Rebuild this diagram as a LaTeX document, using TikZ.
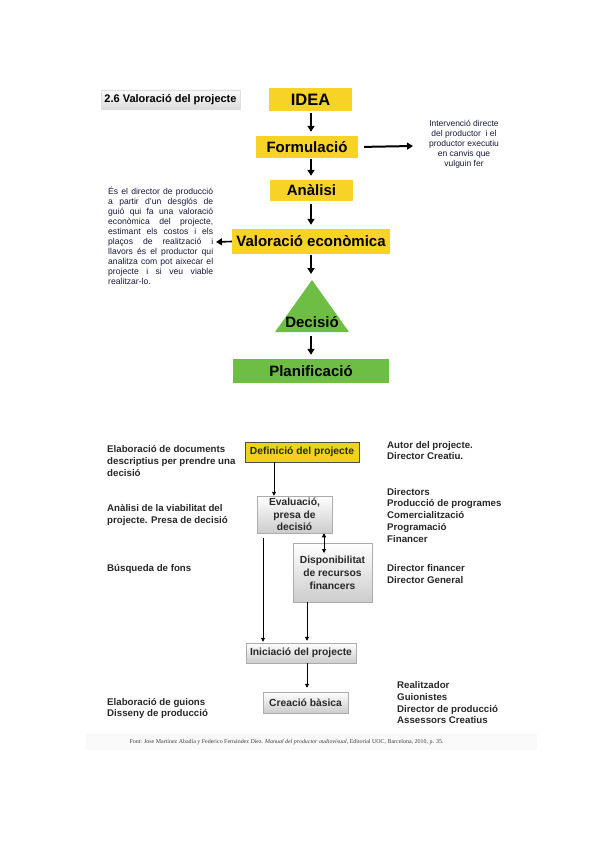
\documentclass[tikz,border=0pt]{standalone}
\usepackage{fontspec}
\setmainfont{Liberation Sans}
\newfontfamily\serifft{Liberation Serif}
\usetikzlibrary{arrows.meta,shadows}
\definecolor{ylw}{RGB}{247,211,40}
\definecolor{dylw}{RGB}{240,210,30}
\definecolor{grn}{RGB}{110,190,70}
\definecolor{navy}{RGB}{25,25,60}
\definecolor{txtg}{RGB}{40,40,40}
\tikzset{
  ybox/.style={fill=ylw, inner sep=0pt, text=black, font=\bfseries\fontsize{15}{18}\selectfont},
  gbox/.style={fill=grn, inner sep=0pt, text=black, font=\bfseries\fontsize{15}{18}\selectfont},
  titlebox/.style={top color=gray!4, bottom color=gray!28, draw=gray!25, inner sep=0pt,
    minimum width=139pt, minimum height=19pt, font=\bfseries\fontsize{11}{13}\selectfont},
  bigarr/.style={line width=1.6pt, -{Triangle[length=6pt,width=7pt]}},
  smarr/.style={line width=0.8pt, -{Triangle[length=4pt,width=4pt]}},
  lbox/.style={top color=white, bottom color=gray!40, draw=gray!65, line width=0.5pt,
    inner sep=0pt, align=center, text=txtg, font=\bfseries\fontsize{10.3}{12.3}\selectfont,
    drop shadow={opacity=0.25, shadow xshift=1pt, shadow yshift=-1pt}},
  defbox/.style={fill=dylw, draw=black!70, line width=0.5pt, inner sep=0pt, text=txtg,
    font=\bfseries\fontsize{10.3}{12.3}\selectfont,
    drop shadow={opacity=0.25, shadow xshift=1pt, shadow yshift=-1pt}},
  side/.style={anchor=base west, inner sep=0pt, align=left, text=txtg,
    font=\bfseries\fontsize{9.7}{11.8}\selectfont},
}
\begin{document}
\begin{tikzpicture}[x=1pt,y=-1pt]
\useasboundingbox (0,0) rectangle (599,848);
\fill[white] (0,0) rectangle (599,848);

% ---------- upper diagram ----------
\node[titlebox] (title) at (170.5,99.5) {2.6 Valoració del projecte};
\node[ybox, minimum width=83pt, minimum height=23pt, font=\bfseries\fontsize{16.5}{18}\selectfont] (idea) at (310.5,99.5) {IDEA};
\node[ybox, minimum width=102pt, minimum height=22pt] (form) at (307,147) {Formulació};
\node[ybox, minimum width=83pt, minimum height=21pt] (anal) at (311.5,190.5) {Anàlisi};
\node[ybox, minimum width=158pt, minimum height=25pt] (val) at (311,241.5) {Valoració econòmica};
\fill[grn] (312,280) -- (349,332) -- (275,332) -- cycle;
\coordinate (tritop) at (312,280);
\coordinate (tribot) at (312,332);
\node[inner sep=0pt, font=\bfseries\fontsize{15}{18}\selectfont] (dec) at (312,322) {Decisió};
\node[gbox, minimum width=156pt, minimum height=24pt] (plan) at (311,371) {Planificació};

% anchor base = baseline of the last line
\node[anchor=base, inner sep=0pt, align=center, text=navy, font=\fontsize{8.5}{9.8}\selectfont] (interv) at (464,166.2)
  {Intervenció directe\\del productor \ i el\\productor executiu\\en canvis que\\vulguin fer};

\node[anchor=north west, inner sep=0pt, text width=105pt, align=justify, text=navy,
  font=\fontsize{8.6}{10}\selectfont] (desc) at (108,187)
  {\hyphenpenalty=10000\relax\noindent És el director de producció\linebreak a partir d'un desglós de\linebreak guió qui fa una valoració\linebreak econòmica del projecte,\linebreak estimant els costos i els\linebreak plaços de realització i\linebreak llavors és el productor qui\linebreak analitza com pot aixecar el\linebreak projecte i si veu viable\linebreak realitzar-lo.\par};

\coordinate (ax) at (311,0);
\coordinate (rtip) at (413,146);
\coordinate (ltip) at (216,242);
\draw[bigarr, shorten <=2pt, shorten >=4pt] (idea.south -| ax) -- (form.north -| ax);
\draw[bigarr, shorten <=1pt, shorten >=4pt] (form.south -| ax) -- (anal.north -| ax);
\draw[bigarr, shorten <=3pt, shorten >=4pt] (anal.south -| ax) -- (val.north -| ax);
\draw[bigarr, shorten <=1pt, shorten >=6pt] (val.south -| ax) -- (tritop -| ax);
\draw[bigarr, shorten <=4pt, shorten >=4pt] (tribot -| ax) -- (plan.north -| ax);
\draw[bigarr, line width=2pt, shorten <=6pt] (form.east) -- (rtip);
\draw[bigarr] (val.west) -- (ltip);

% ---------- lower diagram ----------
\node[defbox, minimum width=114pt, minimum height=20pt] (def) at (302,452) {Definició del projecte};
\node[lbox, minimum width=75pt, minimum height=37pt] (eval) at (294.5,514.5) {Evaluació,\\presa de\\decisió};
\node[lbox, minimum width=79pt, minimum height=59pt, font=\bfseries\fontsize{10.3}{13}\selectfont] (disp) at (332.5,572.5) {Disponibilitat\\de recursos\\financers};
\node[lbox, minimum width=110pt, minimum height=20pt] (ini) at (301,653) {Iniciació del projecte};
\node[lbox, minimum width=85pt, minimum height=21pt] (cre) at (305.5,702.5) {Creació bàsica};

\coordinate (x1) at (274,0);
\coordinate (x2) at (263,0);
\coordinate (x3) at (324,0);
\coordinate (x4) at (307,0);
\coordinate (dtip) at (324,553);
\draw[smarr] (def.south -| x1) -- (eval.north -| x1);
\draw[smarr, shorten <=5pt, shorten >=1pt] (eval.south -| x2) -- (ini.north -| x2);
\draw[smarr, {Triangle[length=4pt,width=4pt]}-{Triangle[length=4pt,width=4pt]}] (eval.south -| x3) -- (dtip);
\draw[smarr, shorten >=2pt] (disp.south -| x4) -- (ini.north -| x4);
\draw[smarr, shorten >=4pt] (ini.south -| x4) -- (cre.north -| x4);

% side texts: anchor at the baseline of the last line
\node[side] (l1) at (107,476.1) {Elaboració de documents\\descriptius per prendre una\\decisió};
\node[side] (l2) at (107,523.3) {Anàlisi de la viabilitat del\\projecte. Presa de decisió};
\node[side] (l3) at (107,571.5) {Búsqueda de fons};
\node[side] (l4) at (107,716.8) {Elaboració de guions\\Disseny de producció};

\node[side] (r1) at (387,459.8) {Autor del projecte.\\Director Creatiu.};
\node[side] (r2) at (387,542.2) {Directors\\Producció de programes\\Comercialització\\Programació\\Financer};
\node[side] (r3) at (387,583.3) {Director financer\\Director General};
\node[side] (r4) at (397,723.9) {Realitzador\\Guionistes\\Director de producció\\Assessors Creatius};

% ---------- footer ----------
\fill[gray!5] (86,734) rectangle (537,750);
\node[inner sep=0pt, text=black!75, font=\serifft\fontsize{5.95}{7}\selectfont] (foot) at (286.5,742)
  {Font: Jose Martínez Abadía y Federico Fernández Díez. \textit{Manual del productor audiovisual}, Editorial UOC, Barcelona, 2010, p. 35.};
\end{tikzpicture}
\end{document}
